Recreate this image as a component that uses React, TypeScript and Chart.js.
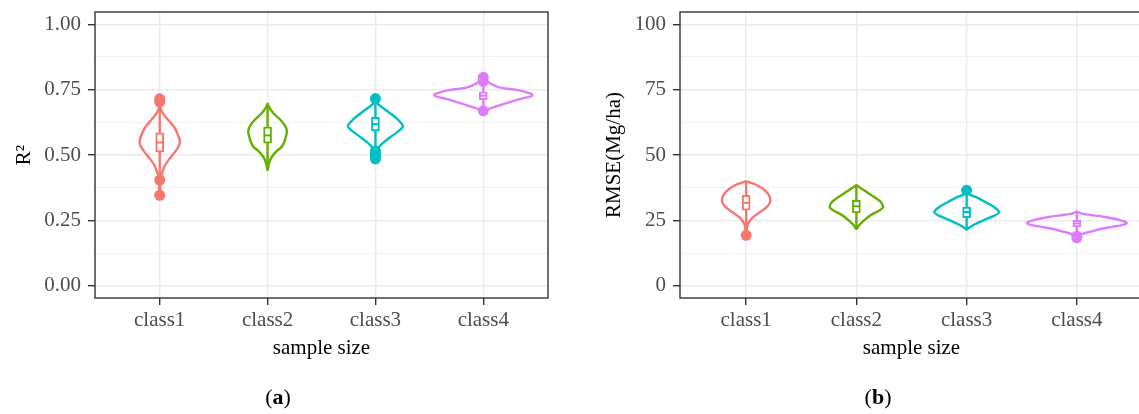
import React, { useEffect, useRef } from "react";
import { Chart, registerables } from "chart.js";

Chart.register(...registerables);

const FONT = "'Liberation Serif', 'Times New Roman', serif";

const categories = ["class1", "class2", "class3", "class4"];
const classColors = ["#F8766D", "#64AF00", "#00BFC4", "#DF7CFB"];

// ---------- Panel (a): R² ----------
const r2TickLabels = ["0.00", "0.25", "0.50", "0.75", "1.00"];
const r2Q1 = [0.512, 0.545, 0.592, 0.712];
const r2Median = [0.548, 0.575, 0.618, 0.727];
const r2Q3 = [0.585, 0.608, 0.644, 0.742];
const r2WhiskerLow = [0.415, 0.447, 0.525, 0.685];
const r2WhiskerHigh = [0.69, 0.692, 0.7, 0.77];
const r2Outliers = [
  [0.715, 0.703, 0.404, 0.346],
  [],
  [0.716, 0.515, 0.505, 0.495, 0.485],
  [0.797, 0.782, 0.669],
];
const r2ViolinY = [
  [0.346, 0.4, 0.416, 0.435, 0.461, 0.487, 0.512, 0.531, 0.544, 0.557, 0.582, 0.608, 0.633, 0.659, 0.678, 0.715],
  [0.444, 0.461, 0.487, 0.512, 0.531, 0.55, 0.569, 0.589, 0.608, 0.633, 0.659, 0.684, 0.695],
  [0.484, 0.5, 0.518, 0.537, 0.557, 0.576, 0.595, 0.61, 0.621, 0.64, 0.659, 0.678, 0.697, 0.716],
  [0.669, 0.678, 0.695, 0.71, 0.723, 0.729, 0.736, 0.749, 0.758, 0.774, 0.787, 0.797],
];
const r2ViolinHalfWidth = [
  [0.003, 0.004, 0.009, 0.025, 0.049, 0.093, 0.142, 0.173, 0.185, 0.185, 0.164, 0.132, 0.081, 0.031, 0.008, 0.003],
  [0.003, 0.009, 0.031, 0.077, 0.13, 0.155, 0.169, 0.179, 0.167, 0.123, 0.056, 0.012, 0.003],
  [0.003, 0.004, 0.016, 0.046, 0.102, 0.164, 0.225, 0.256, 0.24, 0.197, 0.139, 0.077, 0.019, 0.003],
  [0.003, 0.062, 0.185, 0.306, 0.432, 0.456, 0.432, 0.306, 0.155, 0.062, 0.025, 0.003],
];

// ---------- Panel (b): RMSE ----------
const rmseTickLabels = ["0", "25", "50", "75", "100"];
const rmseQ1 = [28.9, 27.8, 26.0, 22.5];
const rmseMedian = [31.7, 30.4, 28.2, 23.8];
const rmseQ3 = [34.6, 32.7, 30.1, 25.0];
const rmseWhiskerLow = [21.0, 21.8, 21.5, 20.0];
const rmseWhiskerHigh = [39.5, 38.4, 35.0, 28.0];
const rmseOutliers = [[19.3], [], [36.5], [18.3, 19.0]];
const rmseViolinY = [
  [19.3, 20.5, 22.5, 24.4, 26.3, 28.2, 30.2, 31.7, 33.4, 35.3, 37.2, 38.8, 39.7, 39.9],
  [21.8, 23.1, 25.0, 27.0, 28.9, 30.1, 32.1, 34.0, 35.9, 37.8, 38.4],
  [21.5, 21.9, 23.5, 25.3, 26.9, 28.2, 30.1, 32.1, 33.8, 35.3, 36.5],
  [18.3, 19.3, 20.0, 20.9, 21.8, 22.5, 23.1, 23.5, 24.0, 24.4, 25.0, 25.7, 26.3, 26.9, 27.5, 28.3],
];
const rmseViolinHalfWidth = [
  [0.003, 0.005, 0.009, 0.027, 0.066, 0.127, 0.188, 0.215, 0.218, 0.197, 0.148, 0.082, 0.021, 0.003],
  [0.003, 0.024, 0.07, 0.13, 0.211, 0.242, 0.22, 0.16, 0.091, 0.024, 0.003],
  [0.003, 0.012, 0.075, 0.166, 0.257, 0.293, 0.248, 0.166, 0.091, 0.012, 0.003],
  [0.003, 0.027, 0.063, 0.145, 0.227, 0.317, 0.399, 0.435, 0.453, 0.44, 0.399, 0.326, 0.254, 0.151, 0.054, 0.003],
];

type PanelSpec = {
  yTitle: string;
  tickLabels: string[];
  majorStep: number;
  yMin: number;
  yMax: number;
  q1: number[];
  median: number[];
  q3: number[];
  wLo: number[];
  wHi: number[];
  outliers: number[][];
  violinY: number[][];
  violinHW: number[][];
  canvasWidth: number;
  plotLeft: number;
  plotRight: number;
  yTitlePad: number;
};

const framePlugin = {
  id: "panelFrame",
  afterDatasetsDraw(chart: any) {
    const { ctx, chartArea: a } = chart;
    ctx.save();
    ctx.strokeStyle = "#333333";
    ctx.lineWidth = 1.4;
    ctx.strokeRect(a.left, a.top, a.right - a.left, a.bottom - a.top);
    ctx.restore();
  },
};

function buildDatasets(p: PanelSpec) {
  const ds: any[] = [];
  categories.forEach((_, i) => {
    const c = i + 1;
    const ys = p.violinY[i];
    const hs = p.violinHW[i];
    const pts: { x: number; y: number }[] = [];
    for (let k = ys.length - 1; k >= 0; k--) pts.push({ x: c + hs[k], y: ys[k] });
    for (let k = 0; k < ys.length; k++) pts.push({ x: c - hs[k], y: ys[k] });
    pts.push({ ...pts[0] });
    ds.push({
      type: "line",
      data: pts,
      borderColor: classColors[i],
      borderWidth: 2.4,
      pointRadius: 0,
      fill: false,
      tension: 0.25,
      borderJoinStyle: "round",
      borderCapStyle: "round",
      order: 5,
    });
    ds.push({
      type: "line",
      data: [
        { x: c, y: p.wLo[i] },
        { x: c, y: p.wHi[i] },
      ],
      borderColor: classColors[i],
      borderWidth: 2.4,
      pointRadius: 0,
      fill: false,
      order: 4,
    });
    ds.push({
      type: "line",
      data: [
        { x: c - 0.032, y: p.median[i] },
        { x: c + 0.032, y: p.median[i] },
      ],
      borderColor: classColors[i],
      borderWidth: 2,
      pointRadius: 0,
      fill: false,
      order: 2,
    });
  });
  ds.push({
    type: "bar",
    data: categories.map((_, i) => ({ x: i + 1, y: [p.q1[i], p.q3[i]] })),
    backgroundColor: "#FFFFFF",
    borderColor: classColors,
    borderWidth: 2,
    borderSkipped: false,
    barThickness: 8,
    order: 3,
  });
  const outPts: { x: number; y: number }[] = [];
  const outCols: string[] = [];
  p.outliers.forEach((arr, i) =>
    arr.forEach((v) => {
      outPts.push({ x: i + 1, y: v });
      outCols.push(classColors[i]);
    })
  );
  ds.push({
    type: "scatter",
    data: outPts,
    pointBackgroundColor: outCols,
    pointBorderColor: outCols,
    pointBorderWidth: 0,
    pointRadius: 5.5,
    order: 1,
  });
  return ds;
}

function Panel({ spec, left }: { spec: PanelSpec; left: number }) {
  const ref = useRef<HTMLCanvasElement | null>(null);
  useEffect(() => {
    if (!ref.current) return;
    const p = spec;
    const isMajor = (v: number) => {
      const idx = Math.round(v / p.majorStep);
      return Math.abs(v - idx * p.majorStep) < p.majorStep * 1e-3;
    };
    const H = 414;
    const plotTop = 12;
    const plotBottom = 298;
    const xScaleBottom = 360.6;
    const chart = new Chart(ref.current, {
      type: "scatter",
      data: { datasets: buildDatasets(p) },
      plugins: [framePlugin],
      options: {
        animation: false,
        responsive: false,
        devicePixelRatio: 1,
        events: [],
        layout: {
          padding: {
            top: plotTop,
            right: p.canvasWidth - p.plotRight,
            bottom: H - xScaleBottom,
            left: 0,
          },
        },
        plugins: {
          legend: { display: false },
          tooltip: { enabled: false },
          title: { display: false },
        },
        scales: {
          x: {
            type: "linear",
            min: 0.4,
            max: 4.6,
            offset: false,
            border: { display: false },
            grid: {
              offset: false,
              color: "#EBEBEB",
              lineWidth: 1.4,
              drawTicks: true,
              tickLength: 7,
              tickWidth: 1.4,
              tickColor: "#333333",
            },
            ticks: {
              stepSize: 1,
              includeBounds: false,
              autoSkip: false,
              maxRotation: 0,
              padding: 3,
              color: "#4D4D4D",
              font: { family: FONT, size: 21 },
              callback: (v: any) => categories[Math.round(Number(v)) - 1] ?? "",
            },
            title: {
              display: true,
              text: "sample size",
              color: "#000000",
              font: { family: FONT, size: 21, lineHeight: 1.2 },
              padding: { top: 0, bottom: 0 },
            },
            afterFit: (s: any) => {
              s.height = xScaleBottom - plotBottom;
              s.paddingLeft = 0;
              s.paddingRight = 0;
              s.paddingTop = 0;
              s.paddingBottom = 0;
            },
          },
          y: {
            type: "linear",
            min: p.yMin,
            max: p.yMax,
            border: { display: false },
            grid: {
              color: "#EBEBEB",
              lineWidth: (ctx: any) => (ctx.tick && isMajor(ctx.tick.value) ? 1.4 : 0.7),
              drawTicks: true,
              tickLength: 7,
              tickWidth: 1.4,
              tickColor: (ctx: any) =>
                ctx.tick && isMajor(ctx.tick.value) ? "#333333" : "rgba(0,0,0,0)",
            },
            ticks: {
              stepSize: p.majorStep / 2,
              includeBounds: false,
              autoSkip: false,
              padding: 7,
              color: "#4D4D4D",
              font: { family: FONT, size: 21 },
              callback: (v: any) => {
                const n = Number(v);
                if (!isMajor(n)) return "";
                return p.tickLabels[Math.round(n / p.majorStep)] ?? "";
              },
            },
            title: {
              display: true,
              text: p.yTitle,
              color: "#000000",
              font: { family: FONT, size: 21, lineHeight: 1.2 },
              padding: { top: p.yTitlePad, bottom: 0 },
            },
            afterFit: (s: any) => {
              s.width = p.plotLeft;
              s.paddingLeft = 0;
              s.paddingRight = 0;
              s.paddingTop = 0;
              s.paddingBottom = 0;
            },
          },
        },
      } as any,
    });
    return () => chart.destroy();
  }, [spec]);
  return (
    <canvas
      ref={ref}
      width={spec.canvasWidth}
      height={414}
      style={{ position: "absolute", left, top: 0, width: spec.canvasWidth, height: 414 }}
    />
  );
}

const panelA: PanelSpec = {
  yTitle: "R²",
  tickLabels: r2TickLabels,
  majorStep: 0.25,
  yMin: -0.047,
  yMax: 1.047,
  q1: r2Q1,
  median: r2Median,
  q3: r2Q3,
  wLo: r2WhiskerLow,
  wHi: r2WhiskerHigh,
  outliers: r2Outliers,
  violinY: r2ViolinY,
  violinHW: r2ViolinHalfWidth,
  canvasWidth: 570,
  plotLeft: 95,
  plotRight: 548,
  yTitlePad: 12,
};

const panelB: PanelSpec = {
  yTitle: "RMSE(Mg/ha)",
  tickLabels: rmseTickLabels,
  majorStep: 25,
  yMin: -4.7,
  yMax: 104.7,
  q1: rmseQ1,
  median: rmseMedian,
  q3: rmseQ3,
  wLo: rmseWhiskerLow,
  wHi: rmseWhiskerHigh,
  outliers: rmseOutliers,
  violinY: rmseViolinY,
  violinHW: rmseViolinHalfWidth,
  canvasWidth: 600,
  plotLeft: 110,
  plotRight: 573,
  yTitlePad: 31.5,
};

const captionStyle: React.CSSProperties = {
  position: "absolute",
  top: 383,
  transform: "translateX(-50%)",
  fontFamily: FONT,
  fontSize: 22,
  lineHeight: "28px",
  color: "#000",
  whiteSpace: "nowrap",
};

export default function App() {
  return (
    <div
      style={{
        position: "fixed",
        left: 0,
        top: 0,
        width: 1139,
        height: 414,
        overflow: "hidden",
        background: "#FFFFFF",
      }}
    >
      <Panel spec={panelA} left={0} />
      <Panel spec={panelB} left={570} />
      <div style={{ ...captionStyle, left: 278 }}>
        (<b>a</b>)
      </div>
      <div style={{ ...captionStyle, left: 878 }}>
        (<b>b</b>)
      </div>
    </div>
  );
}
